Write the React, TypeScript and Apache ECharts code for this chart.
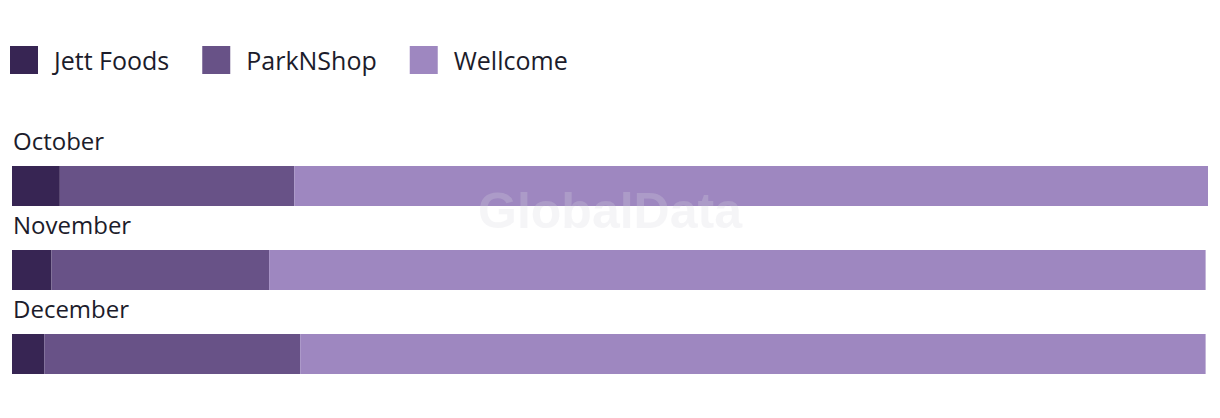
import React, { useEffect, useRef } from "react";
import * as echarts from "echarts";

const categories = ["October", "November", "December"];
const jettFoods = [4.0, 3.3, 2.7];
const parkNShop = [19.6, 18.2, 21.4];
const wellcome = [76.4, 78.3, 75.7];
const seriesNames = ["Jett Foods", "ParkNShop", "Wellcome"];
const colors = ["#372553", "#685287", "#9e87c0"];

export default function App() {
  const ref = useRef<HTMLDivElement>(null);
  useEffect(() => {
    if (!ref.current) return;
    const chart = echarts.init(ref.current, null, { renderer: "svg" });
    const font = "Open Sans";
    const values = [jettFoods, parkNShop, wellcome];
    chart.setOption({
      animation: false,
      color: colors,
      legend: {
        left: 10,
        top: 46,
        padding: 0,
        itemWidth: 28,
        itemHeight: 28,
        itemGap: 33,
        icon: "rect",
        data: seriesNames,
        textStyle: {
          fontFamily: font,
          fontSize: 25,
          color: "#1c1c2b",
          padding: [0, 0, 8, 11],
        },
      },
      grid: { left: 12, right: 12, top: 144, bottom: 22, containLabel: false },
      xAxis: {
        type: "value",
        min: 0,
        max: 100,
        show: false,
      },
      yAxis: {
        type: "category",
        data: categories,
        inverse: true,
        axisLine: { show: false },
        axisTick: { show: false },
        axisLabel: { show: false },
      },
      graphic: [
        {
          type: "text",
          left: "center",
          top: 186,
          z: 100,
          style: {
            text: "GlobalData",
            fontFamily: "Liberation Sans",
            fontWeight: "bold",
            fontSize: 50,
            fill: "rgba(215,215,225,0.25)",
          },
        },
      ],
      series: seriesNames.map((name, i) => ({
        name,
        type: "bar",
        stack: "total",
        barWidth: 40,
        data: values[i],
        itemStyle: { color: colors[i] },
        emphasis: { disabled: true },
        label:
          i === 0
            ? {
                show: true,
                position: [1, -38],
                formatter: "{b}",
                fontFamily: font,
                fontSize: 24,
                color: "#1c1c2b",
              }
            : { show: false },
      })),
    });
    return () => chart.dispose();
  }, []);
  return (
    <div
      ref={ref}
      style={{ position: "absolute", left: 0, top: 0, width: 1220, height: 418 }}
    />
  );
}
